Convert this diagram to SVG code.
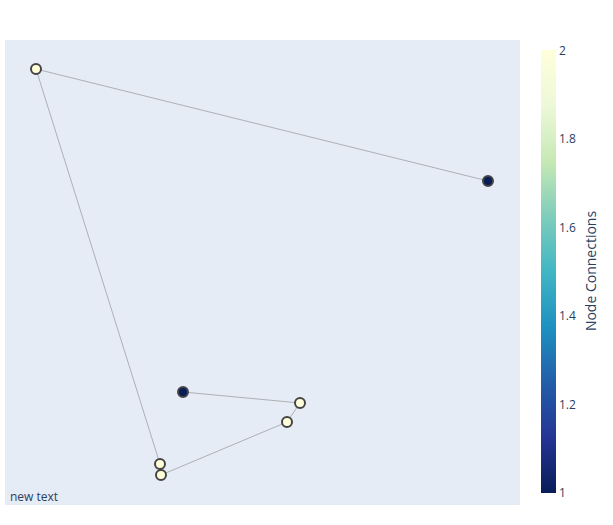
<svg xmlns="http://www.w3.org/2000/svg" width="613" height="525" viewBox="0 0 613 525">
<defs>
<linearGradient id="ylgnbu" x1="0" y1="1" x2="0" y2="0">
<stop offset="0" stop-color="rgb(8,29,88)"/>
<stop offset="0.125" stop-color="rgb(37,52,148)"/>
<stop offset="0.25" stop-color="rgb(34,94,168)"/>
<stop offset="0.375" stop-color="rgb(29,145,192)"/>
<stop offset="0.5" stop-color="rgb(65,182,196)"/>
<stop offset="0.625" stop-color="rgb(127,205,187)"/>
<stop offset="0.75" stop-color="rgb(199,233,180)"/>
<stop offset="0.875" stop-color="rgb(237,248,217)"/>
<stop offset="1" stop-color="rgb(255,255,217)"/>
</linearGradient>
</defs>
<style>
.edge{stroke:#888;stroke-width:0.6;fill:none}
.node{stroke:rgb(68,68,68);stroke-width:2}
.hi{fill:rgb(255,255,217)}
.lo{fill:rgb(8,29,88)}
.t{font-family:"Open Sans","Liberation Sans",sans-serif;font-size:12px;fill:rgb(42,63,95)}
</style>
<rect x="0" y="0" width="613" height="525" fill="#fff"/>
<rect x="5" y="40" width="515" height="465" fill="rgb(229,236,246)"/>
<g id="edges">
<line class="edge" x1="36" y1="69" x2="488" y2="181"/>
<line class="edge" x1="36" y1="69" x2="160" y2="464"/>
<line class="edge" x1="183" y1="392" x2="300" y2="403"/>
<line class="edge" x1="300" y1="403" x2="287" y2="422"/>
<line class="edge" x1="287" y1="422" x2="161" y2="475"/>
</g>
<g id="n0"><circle class="node hi" cx="36" cy="69" r="5"/></g>
<g id="n1"><circle class="node lo" cx="488" cy="181" r="5"/></g>
<g id="n2"><circle class="node lo" cx="183" cy="392" r="5"/></g>
<g id="n3"><circle class="node hi" cx="300" cy="403" r="5"/></g>
<g id="n4"><circle class="node hi" cx="287" cy="422" r="5"/></g>
<g id="n5"><circle class="node hi" cx="160" cy="464" r="5"/></g>
<g id="n6"><circle class="node hi" cx="161" cy="475" r="5"/></g>
<text class="t" x="10" y="501">new text</text>
<g id="colorbar">
<rect x="541" y="50" width="15" height="443" fill="url(#ylgnbu)"/>
<text class="t" x="559" y="497">1</text>
<text class="t" x="559" y="409">1.2</text>
<text class="t" x="559" y="320">1.4</text>
<text class="t" x="559" y="232">1.6</text>
<text class="t" x="559" y="143">1.8</text>
<text class="t" x="559" y="55">2</text>
<text class="t" style="font-size:14px" transform="translate(596,271) rotate(-90)" text-anchor="middle">Node Connections</text>
</g>
</svg>
